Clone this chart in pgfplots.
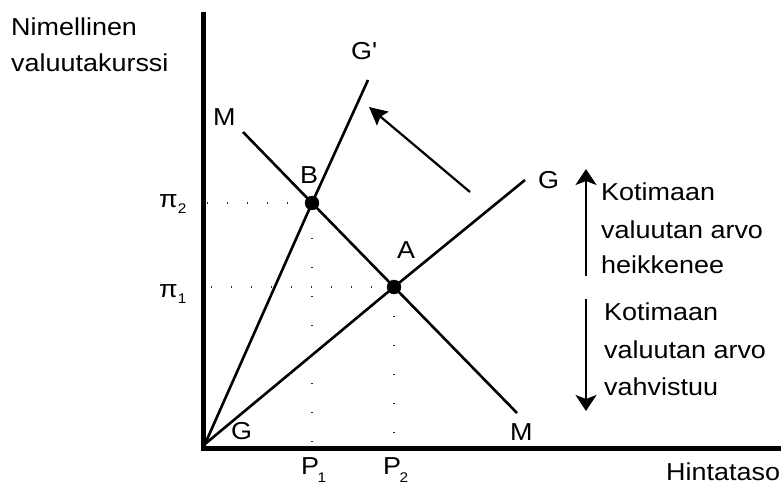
\documentclass[border=0pt]{standalone}
\usepackage{fontspec}
\setmainfont{Liberation Sans}[FakeStretch=1.1]
\usepackage{pgfplots}
\pgfplotsset{compat=1.18}
\usetikzlibrary{arrows.meta}
\newcommand\lbl{\fontsize{24.5bp}{29bp}\selectfont}
\newcommand\subs[2]{\raisebox{-#1}{\fontsize{14bp}{14bp}\selectfont #2}}
\tikzset{lb/.style={anchor=base west,inner sep=0pt,font=\lbl}}
\begin{document}
\begin{tikzpicture}
\begin{axis}[width=781bp,height=486bp,scale only axis,
  xmin=0,xmax=781,ymin=0,ymax=486,y dir=reverse,hide axis,clip=false]
% axes
\addplot[black,line width=5.5bp] coordinates {(203.5,12) (203.5,450.5)};
\addplot[black,line width=5bp] coordinates {(201,448) (781,448)};
% dotted guides
\addplot[black!85,line width=1.2bp,dash pattern=on 1.4bp off 18.6bp] coordinates {(207,203) (312,203)};
\addplot[black!85,line width=1.2bp,dash pattern=on 1.4bp off 18.6bp] coordinates {(211,287) (394,287)};
\addplot[black!85,line width=1.2bp,dash pattern=on 1.4bp off 27.6bp] coordinates {(312,238) (312,446)};
\addplot[black!85,line width=1.2bp,dash pattern=on 1.4bp off 27.6bp] coordinates {(394,316) (394,446)};
% curves
\addplot[black,line width=2.6bp] coordinates {(205,444) (312,203) (368,80)};
\addplot[black,line width=2.6bp] coordinates {(205,444) (394,287) (525,180)};
\addplot[black,line width=2.6bp] coordinates {(243,132) (312,203) (394,287) (517,413)};
% equilibria
\addplot[only marks,mark=*,mark size=7bp,black] coordinates {(312,203) (394,287)};
% arrows
\addplot[black,line width=2.2bp,-{Stealth[length=18bp,width=18bp,inset=3bp]}] coordinates {(470,192) (369,107)};
\addplot[black,line width=2bp,-{Stealth[length=16bp,width=21bp,inset=4bp]}] coordinates {(586,276) (586,169)};
\addplot[black,line width=2bp,-{Stealth[length=16bp,width=21bp,inset=4bp]}] coordinates {(586,299) (586,411)};
% labels
\node[lb] at (axis cs:11,36) {Nimellinen};
\node[lb] at (axis cs:11,72) {valuutakurssi};
\node[lb] at (axis cs:351,60) {G\textquotesingle};
\node[lb] at (axis cs:213,125) {M};
\node[lb] at (axis cs:300,183) {B};
\node[lb] at (axis cs:397,258) {A};
\node[lb] at (axis cs:538,188) {G};
\node[lb] at (axis cs:231,439) {G};
\node[lb] at (axis cs:510,440) {M};
\node[lb] at (axis cs:159,207) {π\subs{6bp}{2}};
\node[lb] at (axis cs:159,297) {π\subs{6bp}{1}};
\node[lb] at (axis cs:301,474) {P\kern-1.5bp\subs{8.5bp}{1}};
\node[lb] at (axis cs:383,474) {P\kern-1.5bp\subs{8.5bp}{2}};
\node[lb] at (axis cs:666,480) {Hintataso};
\node[lb] at (axis cs:601,200) {Kotimaan};
\node[lb] at (axis cs:601,238) {valuutan arvo};
\node[lb] at (axis cs:601,273) {heikkenee};
\node[lb] at (axis cs:604,320) {Kotimaan};
\node[lb] at (axis cs:604,358) {valuutan arvo};
\node[lb] at (axis cs:604,395) {vahvistuu};
\end{axis}
\pgfresetboundingbox
\useasboundingbox (0,0) rectangle (781bp,486bp);
\end{tikzpicture}
\end{document}
